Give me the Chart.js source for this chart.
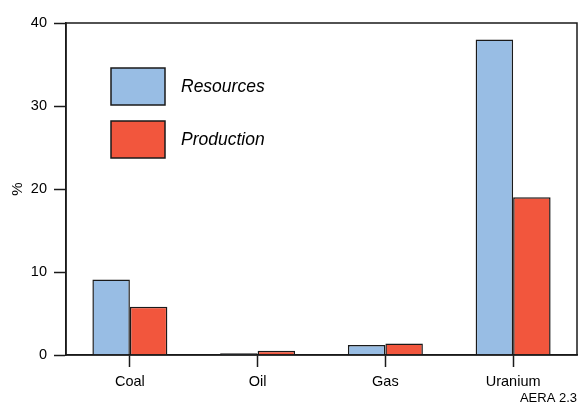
<!DOCTYPE html>
<html>
<head>
<meta charset="utf-8">
<script src="https://cdn.jsdelivr.net/npm/chart.js@4"></script>
<style>
html, body { margin: 0; padding: 0; background: #fff; }
</style>
</head>
<body>
<canvas id="myChart" width="579" height="405"></canvas>
<script>
const categories = ['Coal', 'Oil', 'Gas', 'Uranium'];
const resources = [9.1, 0.2, 1.2, 38.0];
const production = [5.8, 0.5, 1.4, 19.0];
const yTicks = [0, 10, 20, 30, 40];

const FONT = '"Liberation Sans", Arial, Helvetica, sans-serif';
const INK = '#1a1a1a';

// frame round the plot, legend inside it and the figure tag
const extras = {
    id: 'extras',
    afterDatasetsDraw(chart) {
        const ctx = chart.ctx;
        const a = chart.chartArea;
        ctx.save();
        ctx.strokeStyle = INK;
        ctx.lineWidth = 1.5;
        ctx.strokeRect(a.left, a.top, a.right - a.left, a.bottom - a.top);

        chart.data.datasets.forEach(function (ds, i) {
            const x = a.left + 45;
            const y = a.top + 45 + i * 53;
            ctx.fillStyle = ds.backgroundColor;
            ctx.fillRect(x, y, 54, 37);
            ctx.lineWidth = 1.5;
            ctx.strokeStyle = INK;
            ctx.strokeRect(x, y, 54, 37);
            ctx.fillStyle = '#000';
            ctx.font = 'italic 17.5px ' + FONT;
            ctx.textBaseline = 'middle';
            ctx.textAlign = 'left';
            ctx.fillText(ds.label, x + 70, y + 19);
        });

        ctx.font = '13px ' + FONT;
        ctx.textAlign = 'right';
        ctx.textBaseline = 'middle';
        ctx.fillStyle = '#000';
        ctx.fillText('AERA 2.3', 577, 398);
        ctx.restore();
    }
};

const myChart = new Chart(document.getElementById('myChart'), {
    type: 'bar',
    data: {
        labels: categories,
        datasets: [{
            label: 'Resources',
            data: resources,
            backgroundColor: '#98bde4',
            borderColor: INK,
            borderWidth: 1.5
        }, {
            label: 'Production',
            data: production,
            backgroundColor: '#f2563d',
            borderColor: INK,
            borderWidth: 1.5
        }]
    },
    options: {
        responsive: false,
        animation: false,
        layout: {
            padding: { top: 23, right: 2, left: 0, bottom: 0 }
        },
        datasets: {
            bar: {
                categoryPercentage: 0.587,
                barPercentage: 1
            }
        },
        scales: {
            x: {
                grid: {
                    display: true,
                    drawOnChartArea: false,
                    offset: false,
                    tickLength: 12,
                    tickWidth: 1.5,
                    tickColor: INK
                },
                border: { color: INK, width: 1.5 },
                ticks: {
                    color: '#000',
                    padding: 6,
                    font: { family: FONT, size: 14.5 }
                },
                afterFit(scale) { scale.height = 50; }
            },
            y: {
                min: 0,
                max: 40,
                grid: {
                    drawOnChartArea: false,
                    tickLength: 12,
                    tickWidth: 1.5,
                    tickColor: INK
                },
                border: { color: INK, width: 1.5 },
                ticks: {
                    color: '#000',
                    padding: 7,
                    font: { family: FONT, size: 14.5 }
                },
                afterBuildTicks(scale) {
                    scale.ticks = yTicks.map(v => ({ value: v }));
                },
                title: {
                    display: true,
                    text: '%',
                    color: '#000',
                    padding: { top: 9, bottom: 0 },
                    font: { family: FONT, size: 15 }
                },
                afterFit(scale) { scale.width = 66; }
            }
        },
        plugins: {
            legend: { display: false },
            tooltip: { enabled: false }
        }
    },
    plugins: [extras]
});
</script>
</body>
</html>
